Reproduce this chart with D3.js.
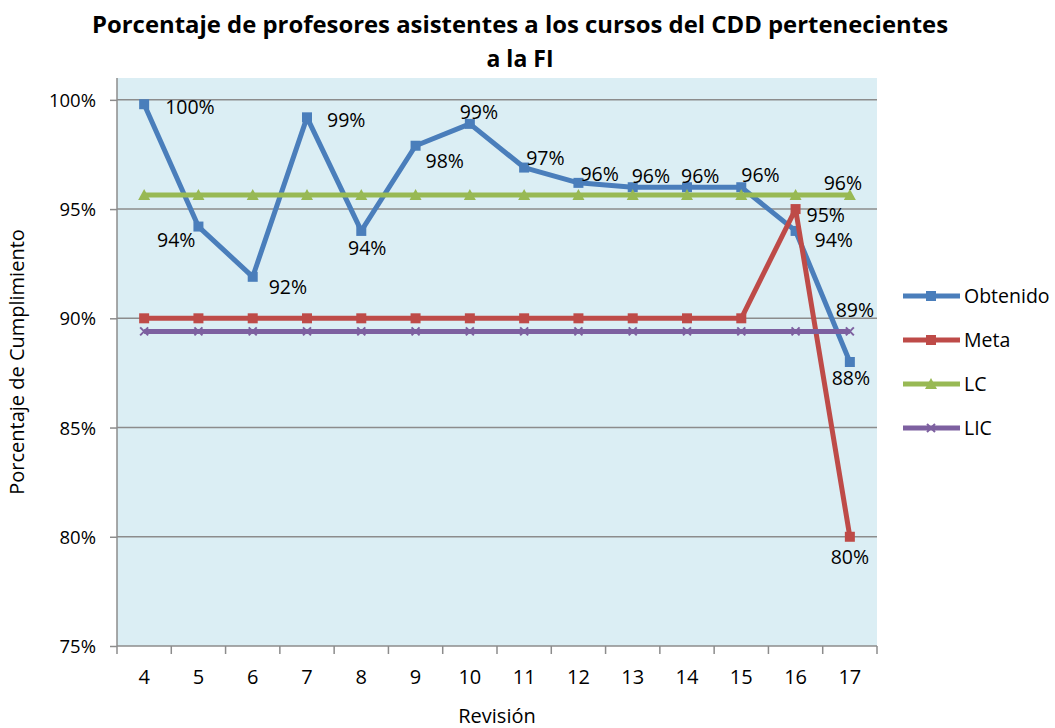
<!DOCTYPE html>
<html>
<head>
<meta charset="utf-8">
<script src="https://cdn.jsdelivr.net/npm/d3@7"></script>
<style>
  body { margin: 0; background: #fff; }
  text { font-family: "Open Sans", "Noto Sans", sans-serif; fill: #000; }
</style>
</head>
<body>
<main></main>
<script>
// data
const revisions = [4, 5, 6, 7, 8, 9, 10, 11, 12, 13, 14, 15, 16, 17];
const obtenido = [0.998, 0.942, 0.919, 0.992, 0.940, 0.979, 0.989, 0.969, 0.962, 0.960, 0.960, 0.960, 0.940, 0.880];
const meta = [0.90, 0.90, 0.90, 0.90, 0.90, 0.90, 0.90, 0.90, 0.90, 0.90, 0.90, 0.90, 0.95, 0.80];
const lc = [0.9565, 0.9565, 0.9565, 0.9565, 0.9565, 0.9565, 0.9565, 0.9565, 0.9565, 0.9565, 0.9565, 0.9565, 0.9565, 0.9565];
const lic = [0.894, 0.894, 0.894, 0.894, 0.894, 0.894, 0.894, 0.894, 0.894, 0.894, 0.894, 0.894, 0.894, 0.894];
const yTicks = [0.75, 0.80, 0.85, 0.90, 0.95, 1.00];

const w = 1055;
const h = 728;
const plotL = 117, plotR = 877, plotT = 78, plotB = 646;

const scaleX = d3.scaleBand().domain(revisions).range([plotL, plotR]);
const scaleY = d3.scaleLinear().domain([0.75, 1.01]).range([plotB, plotT]);
const cx = (d) => scaleX(d) + scaleX.bandwidth() / 2;

const svg = d3.select("main").append("svg").attr("width", w).attr("height", h);

// plot background
svg.append("rect")
  .attr("x", plotL).attr("y", plotT)
  .attr("width", plotR - plotL).attr("height", plotB - plotT)
  .attr("fill", "#dbeef4");

// gridlines
svg.append("g").selectAll("line")
  .data(yTicks.slice(1))
  .enter().append("line")
  .attr("x1", plotL).attr("x2", plotR)
  .attr("y1", d => scaleY(d)).attr("y2", d => scaleY(d))
  .attr("stroke", "#8c8c8c").attr("stroke-width", 1.5);

// axes
const axisY = d3.axisLeft(scaleY).tickValues(yTicks).tickFormat(d3.format(".0%")).tickSize(7).tickSizeOuter(0);
const gy = svg.append("g").attr("transform", `translate(${plotL},0)`).call(axisY);
gy.select(".domain").attr("stroke", "#8c8c8c").attr("stroke-width", 1.5).attr("d", `M0,${plotB}V${plotT}`);
gy.selectAll(".tick line").attr("stroke", "#8c8c8c").attr("stroke-width", 1.5);
gy.selectAll(".tick text").attr("x", -21).attr("dy", "0.35em")
  .style("font-size", "18.5px").style("font-family", "Open Sans, sans-serif").attr("fill", "#000");

const axisX = d3.axisBottom(scaleX).tickSize(0);
const gx = svg.append("g").attr("transform", `translate(0,${plotB})`).call(axisX);
gx.select(".domain").attr("stroke", "#8c8c8c").attr("stroke-width", 1.5).attr("d", `M${plotL},0H${plotR}`);
gx.selectAll(".tick text").attr("y", 24).attr("dy", "0.71em")
  .style("font-size", "20px").style("font-family", "Open Sans, sans-serif").attr("fill", "#000");
// tick marks between categories
const bounds = revisions.map(d => scaleX(d)).concat([plotR]);
gx.append("g").selectAll("line").data(bounds).enter().append("line")
  .attr("x1", d => d).attr("x2", d => d).attr("y1", 0).attr("y2", 8)
  .attr("stroke", "#8c8c8c").attr("stroke-width", 1.5);

// titles
svg.append("text").attr("x", 520).attr("y", 33).attr("text-anchor", "middle")
  .style("font-size", "23px").style("font-weight", "bold")
  .attr("textLength", 856).attr("lengthAdjust", "spacingAndGlyphs")
  .text("Porcentaje de profesores asistentes a los cursos del CDD pertenecientes");
svg.append("text").attr("x", 520).attr("y", 67).attr("text-anchor", "middle")
  .style("font-size", "23px").style("font-weight", "bold")
  .text("a la FI");
svg.append("text").attr("transform", "translate(24,362) rotate(-90)").attr("text-anchor", "middle")
  .style("font-size", "20px").text("Porcentaje de Cumplimiento");
svg.append("text").attr("x", 497).attr("y", 723).attr("text-anchor", "middle")
  .style("font-size", "20px").text("Revisión");

const series = [
  { name: "Obtenido", values: obtenido, color: "#4a7ebb", marker: "square" },
  { name: "Meta", values: meta, color: "#be4b48", marker: "square" },
  { name: "LC", values: lc, color: "#98b954", marker: "triangle" },
  { name: "LIC", values: lic, color: "#7d60a0", marker: "x" }
];

const line = d3.line().x((d, i) => cx(revisions[i])).y(d => scaleY(d));

function drawMarker(g, type, color) {
  if (type === "square") {
    g.append("rect").attr("x", -5).attr("y", -5).attr("width", 10).attr("height", 10).attr("fill", color);
  } else if (type === "triangle") {
    g.append("path").attr("d", "M0,-6L6,5H-6Z").attr("fill", color);
  } else {
    g.append("path").attr("d", "M-4,-4L4,4M-4,4L4,-4").attr("stroke", color).attr("stroke-width", 2);
  }
}

series.forEach(s => {
  svg.append("path").datum(s.values)
    .attr("d", line).attr("fill", "none")
    .attr("stroke", s.color).attr("stroke-width", 5).attr("stroke-linejoin", "round");
  s.values.forEach((v, i) => {
    const g = svg.append("g").attr("transform", `translate(${cx(revisions[i])},${scaleY(v)})`);
    drawMarker(g, s.marker, s.color);
  });
});

// data labels: [series index, point index, dx, dy, anchor]
const labelOffsets = [
  [0, 0, 21, 10, "start"], [0, 1, -3, 20, "end"], [0, 2, 16, 17, "start"], [0, 3, 20, 10, "start"],
  [0, 4, 6, 24, "middle"], [0, 5, 10, 22, "start"], [0, 6, 9, -5, "middle"], [0, 7, 2, -3, "start"],
  [0, 8, 2, -2, "start"], [0, 9, -1, -4, "start"], [0, 10, -6, -4, "start"], [0, 11, 0, -5, "start"],
  [0, 12, 19, 16, "start"], [0, 13, 1, 23, "middle"],
  [1, 12, 11, 13, "start"], [1, 13, 0, 27, "middle"],
  [2, 13, -7, -5, "middle"],
  [3, 13, 5, -14, "middle"]
];
labelOffsets.forEach(([k, i, dx, dy, anchor]) => {
  const v = series[k].values[i];
  svg.append("text")
    .attr("x", cx(revisions[i]) + dx).attr("y", scaleY(v) + dy)
    .attr("text-anchor", anchor)
    .style("font-size", "19.5px")
    .text(d3.format(".0%")(v));
});

// legend
const legend = svg.append("g").attr("transform", "translate(903,296)");
series.forEach((s, i) => {
  const g = legend.append("g").attr("transform", `translate(0,${i * 44})`);
  g.append("line").attr("x1", 0).attr("x2", 57).attr("stroke", s.color).attr("stroke-width", 5);
  drawMarker(g.append("g").attr("transform", "translate(28,0)"), s.marker, s.color);
  g.append("text").attr("x", 61).attr("y", 0).attr("dy", "0.35em").style("font-size", "19.5px").text(s.name);
});
</script>
</body>
</html>
